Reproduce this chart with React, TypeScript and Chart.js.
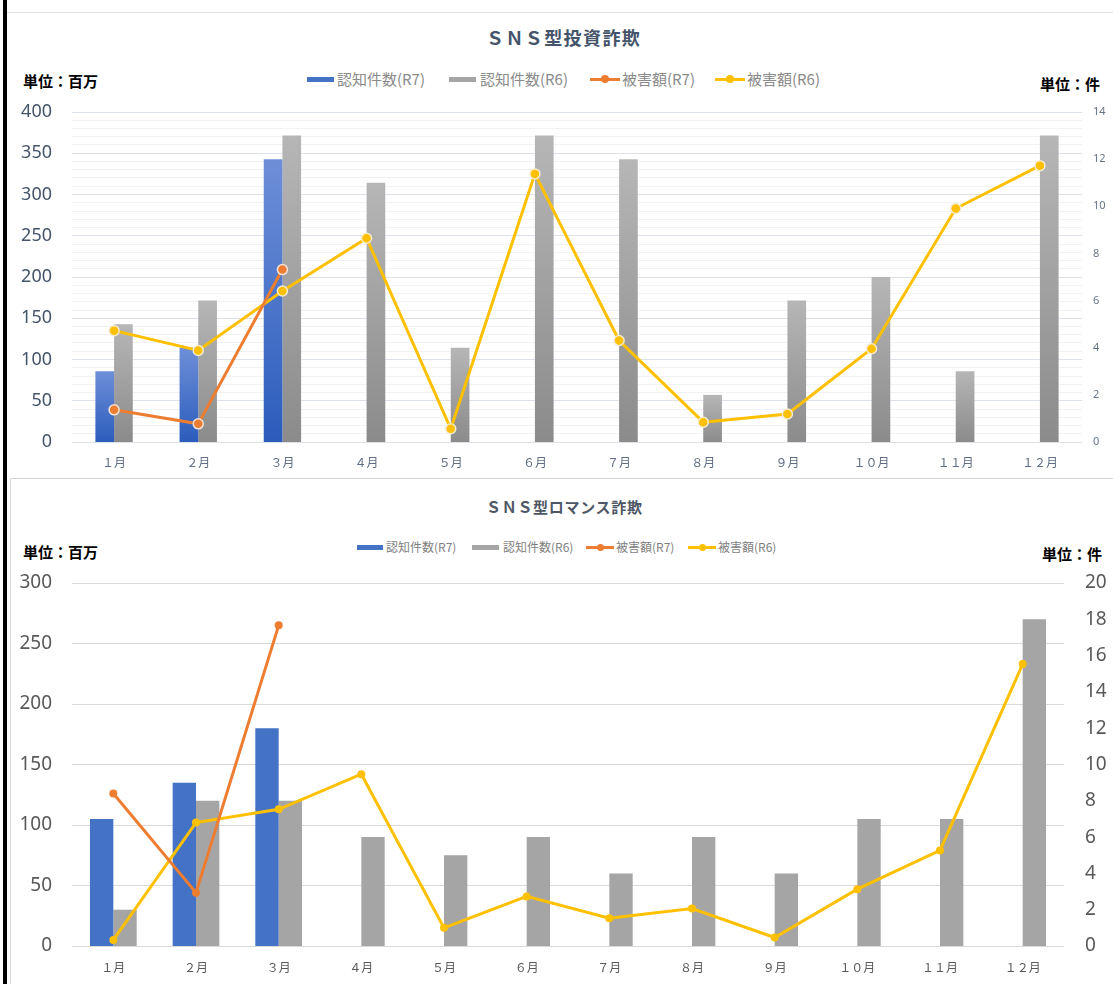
import React, { useEffect, useRef } from 'react';
import { Chart, registerables } from 'chart.js';

Chart.register(...registerables);

// ---------- data ----------
const months = ['１月', '２月', '３月', '４月', '５月', '６月', '７月', '８月', '９月', '１０月', '１１月', '１２月'];
const legendNames = ['認知件数(R7)', '認知件数(R6)', '被害額(R7)', '被害額(R6)'];
const unitLeft = '単位：百万';
const unitRight = '単位：件';

// SNS型投資詐欺
const invTitle = 'ＳＮＳ型投資詐欺';
const invCountR7 = [3, 4, 12, null, null, null, null, null, null, null, null, null];
const invCountR6 = [5, 6, 13, 11, 4, 13, 12, 2, 6, 7, 3, 13];
const invDamageR7 = [39, 22, 209, null, null, null, null, null, null, null, null, null];
const invDamageR6 = [135, 111, 183, 247, 16, 325, 123, 24, 34, 113, 283, 335];
const invLeftMax = 400;
const invLeftLabelStep = 50;
const invLeftMinorStep = 10;
const invRightTicks = [0, 2, 4, 6, 8, 10, 12, 14];

// SNS型ロマンス詐欺
const romTitle = 'ＳＮＳ型ロマンス詐欺';
const romCountR7 = [7, 9, 12, null, null, null, null, null, null, null, null, null];
const romCountR6 = [2, 8, 8, 6, 5, 6, 4, 6, 4, 7, 7, 18];
const romDamageR7 = [126, 44, 265, null, null, null, null, null, null, null, null, null];
const romDamageR6 = [5, 102, 113, 142, 15, 41, 23, 31, 7, 47, 79, 233];
const romLeftTicks = [0, 50, 100, 150, 200, 250, 300];
const romRightTicks = [0, 2, 4, 6, 8, 10, 12, 14, 16, 18, 20];

// ---------- helpers ----------
const FONT = "'Noto Sans', 'Noto Sans CJK JP', sans-serif";
const JP = "'Noto Sans CJK JP', 'Noto Sans', sans-serif";

const barGradient = (light: string, dark: string, axis: string) => (ctx: any) => {
  const chart = ctx.chart;
  const s = chart.scales && chart.scales[axis];
  if (!chart.chartArea || !s || ctx.raw == null) return dark;
  const top = s.getPixelForValue(ctx.raw);
  const bot = s.getPixelForValue(0);
  if (!isFinite(top) || !isFinite(bot) || top === bot) return dark;
  const g = chart.ctx.createLinearGradient(0, top, 0, bot);
  g.addColorStop(0, light);
  g.addColorStop(1, dark);
  return g;
};

function rangeTicks(max: number, step: number) {
  const t: { value: number }[] = [];
  for (let v = 0; v <= max + 1e-9; v += step) t.push({ value: v });
  return t;
}

const fixWidth = (w: number) => (s: any) => {
  s.width = w;
  s.paddingTop = 0;
  s.paddingBottom = 0;
};

function makeInvestConfig(): any {
  return {
    type: 'bar',
    data: {
      labels: months,
      datasets: [
        {
          type: 'bar', label: legendNames[0], data: invCountR7, yAxisID: 'y1', order: 2,
          backgroundColor: barGradient('#6e8fd8', '#2b5cbc', 'y1'),
          categoryPercentage: 0.444, barPercentage: 1,
        },
        {
          type: 'bar', label: legendNames[1], data: invCountR6, yAxisID: 'y1', order: 2,
          backgroundColor: barGradient('#b6b6b6', '#8b8b8b', 'y1'),
          categoryPercentage: 0.444, barPercentage: 1,
        },
        {
          type: 'line', label: legendNames[2], data: invDamageR7, yAxisID: 'y', order: 0,
          borderColor: '#ed7d31', backgroundColor: '#ed7d31', borderWidth: 3,
          pointRadius: 5, pointBackgroundColor: '#ed7d31', pointBorderColor: '#f3e3d8', pointBorderWidth: 1.5,
          tension: 0, spanGaps: false,
        },
        {
          type: 'line', label: legendNames[3], data: invDamageR6, yAxisID: 'y', order: 1,
          borderColor: '#ffc000', backgroundColor: '#ffc000', borderWidth: 3,
          pointRadius: 5, pointBackgroundColor: '#ffc000', pointBorderColor: '#f4ecd2', pointBorderWidth: 1.5,
          tension: 0, spanGaps: false,
        },
      ],
    },
    options: {
      responsive: false,
      animation: false,
      devicePixelRatio: 1,
      layout: { padding: { top: 12, left: 0, right: 0, bottom: 0 } },
      plugins: { legend: { display: false }, title: { display: false }, tooltip: { enabled: false } },
      scales: {
        x: {
          grid: { display: false, drawTicks: false },
          border: { display: false },
          ticks: { color: '#5f6e82', font: { size: 12, family: JP }, padding: 13, autoSkip: false, maxRotation: 0 },
          afterFit: (s: any) => { s.height = 30; },
        },
        y: {
          position: 'left', min: 0, max: invLeftMax,
          afterBuildTicks: (s: any) => { s.ticks = rangeTicks(invLeftMax, invLeftMinorStep); },
          ticks: {
            autoSkip: false, padding: 20, color: '#44546a', font: { size: 18, family: FONT },
            callback: (v: any) => (Number(v) % invLeftLabelStep === 0 ? String(v) : ''),
          },
          grid: {
            drawTicks: false, lineWidth: 1,
            color: (c: any) => (c.tick && c.tick.value % invLeftLabelStep === 0 ? '#dde2ea' : '#f0f2f5'),
          },
          border: { display: false },
          afterFit: fixWidth(72),
        },
        y1: {
          position: 'right', min: 0, max: 14,
          afterBuildTicks: (s: any) => { s.ticks = invRightTicks.map((v) => ({ value: v })); },
          grid: { display: false, drawTicks: false },
          border: { display: false },
          ticks: { autoSkip: false, padding: 11, color: '#66758a', font: { size: 11, family: FONT } },
          afterFit: fixWidth(31),
        },
      },
    },
  };
}

function makeRomanceConfig(): any {
  return {
    type: 'bar',
    data: {
      labels: months,
      datasets: [
        {
          type: 'bar', label: legendNames[0], data: romCountR7, yAxisID: 'y1', order: 2,
          backgroundColor: '#4472c4', borderWidth: 0,
          categoryPercentage: 0.565, barPercentage: 1,
        },
        {
          type: 'bar', label: legendNames[1], data: romCountR6, yAxisID: 'y1', order: 2,
          backgroundColor: '#a5a5a5', borderWidth: 0,
          categoryPercentage: 0.565, barPercentage: 1,
        },
        {
          type: 'line', label: legendNames[2], data: romDamageR7, yAxisID: 'y', order: 0,
          borderColor: '#ed7d31', backgroundColor: '#ed7d31', borderWidth: 3,
          pointRadius: 4, pointBackgroundColor: '#ed7d31', pointBorderWidth: 0,
          tension: 0, spanGaps: false,
        },
        {
          type: 'line', label: legendNames[3], data: romDamageR6, yAxisID: 'y', order: 1,
          borderColor: '#ffc000', backgroundColor: '#ffc000', borderWidth: 3,
          pointRadius: 4, pointBackgroundColor: '#ffc000', pointBorderWidth: 0,
          tension: 0, spanGaps: false,
        },
      ],
    },
    options: {
      responsive: false,
      animation: false,
      devicePixelRatio: 1,
      layout: { padding: { top: 13, left: 0, right: 0, bottom: 0 } },
      plugins: { legend: { display: false }, title: { display: false }, tooltip: { enabled: false } },
      scales: {
        x: {
          grid: { display: false, drawTicks: false },
          border: { display: false },
          ticks: { color: '#595959', font: { size: 12, family: JP }, padding: 14, autoSkip: false, maxRotation: 0 },
          afterFit: (s: any) => { s.height = 30; },
        },
        y: {
          position: 'left', min: 0, max: 300,
          afterBuildTicks: (s: any) => { s.ticks = romLeftTicks.map((v) => ({ value: v })); },
          ticks: { autoSkip: false, padding: 20, color: '#595959', font: { size: 19, family: FONT } },
          grid: { drawTicks: false, lineWidth: 1, color: '#d9d9d9' },
          border: { display: false },
          afterFit: fixWidth(72),
        },
        y1: {
          position: 'right', min: 0, max: 20,
          afterBuildTicks: (s: any) => { s.ticks = romRightTicks.map((v) => ({ value: v })); },
          grid: { display: false, drawTicks: false },
          border: { display: false },
          ticks: { autoSkip: false, padding: 21, color: '#595959', font: { size: 19, family: FONT } },
          afterFit: fixWidth(49),
        },
      },
    },
  };
}

function ChartCanvas({ make, top, width, height }: { make: () => any; top: number; width: number; height: number }) {
  const ref = useRef<HTMLCanvasElement>(null);
  useEffect(() => {
    const chart = new Chart(ref.current as HTMLCanvasElement, make());
    return () => chart.destroy();
  }, []);
  return (
    <canvas
      ref={ref}
      width={width}
      height={height}
      style={{ position: 'absolute', left: 0, top, width, height, display: 'block' }}
    />
  );
}

function Txt({ x, y, size, color, bold, text, spacing, family }: any) {
  return (
    <div
      style={{
        position: 'absolute', left: x, top: y, transform: 'translateY(-50%)',
        fontSize: size, lineHeight: 1.2, color, fontWeight: bold ? 700 : 400,
        fontFamily: family || JP, whiteSpace: 'nowrap', letterSpacing: spacing || 0,
      }}
    >
      {text}
    </div>
  );
}

function Swatch({ x, y, w, kind, color, dot }: any) {
  if (kind === 'bar') {
    return <div style={{ position: 'absolute', left: x, top: y - 2.5, width: w, height: 5, background: color }} />;
  }
  return (
    <>
      <div style={{ position: 'absolute', left: x, top: y - 1.5, width: w, height: 3, background: color }} />
      <div
        style={{
          position: 'absolute', left: x + w / 2 - dot / 2, top: y - dot / 2, width: dot, height: dot,
          borderRadius: '50%', background: color,
        }}
      />
    </>
  );
}

export default function App() {
  const lgA = '#8a8a8a';
  const lgB = '#7f7f7f';
  return (
    <div style={{ position: 'fixed', left: 0, top: 0, width: 1113, height: 984, background: '#ffffff', overflow: 'hidden' }}>
      {/* frame */}
      <div style={{ position: 'absolute', left: 3, top: 0, width: 4, height: 984, background: '#000' }} />
      <div style={{ position: 'absolute', left: 7, top: 12, width: 1106, height: 1, background: '#dde1e6' }} />
      <div style={{ position: 'absolute', left: 10, top: 478, width: 1103, height: 1, background: '#d4d4d4' }} />
      <div style={{ position: 'absolute', left: 10, top: 478, width: 1, height: 506, background: '#d9d9d9' }} />

      {/* chart 1 */}
      <Txt x={486} y={38} size={18} color="#44546a" bold text={invTitle} spacing={1.4} />
      <Txt x={23} y={81} size={15} color="#000" bold text={unitLeft} />
      <Txt x={1040} y={84} size={15} color="#000" bold text={unitRight} />
      <Swatch x={307} y={79} w={27} kind="bar" color="#4472c4" />
      <Txt x={337} y={79} size={15} color={lgA} text={legendNames[0]} />
      <Swatch x={449} y={79} w={27} kind="bar" color="#a5a5a5" />
      <Txt x={480} y={79} size={15} color={lgA} text={legendNames[1]} />
      <Swatch x={590} y={79} w={30} kind="line" color="#ed7d31" dot={8} />
      <Txt x={622} y={79} size={15} color={lgA} text={legendNames[2]} />
      <Swatch x={715} y={79} w={30} kind="line" color="#ffc000" dot={8} />
      <Txt x={747} y={79} size={15} color={lgA} text={legendNames[3]} />
      <ChartCanvas make={makeInvestConfig} top={100} width={1113} height={372} />

      {/* chart 2 */}
      <Txt x={486} y={507} size={15} color="#4e5766" bold text={romTitle} spacing={0.7} />
      <Txt x={23} y={552} size={15} color="#000" bold text={unitLeft} />
      <Txt x={1042} y={554} size={15} color="#000" bold text={unitRight} />
      <Swatch x={357} y={547} w={26} kind="bar" color="#4472c4" />
      <Txt x={386} y={547} size={12} color={lgB} text={legendNames[0]} />
      <Swatch x={472} y={547} w={27} kind="bar" color="#a5a5a5" />
      <Txt x={503} y={547} size={12} color={lgB} text={legendNames[1]} />
      <Swatch x={586} y={547} w={28} kind="line" color="#ed7d31" dot={7} />
      <Txt x={616} y={547} size={12} color={lgB} text={legendNames[2]} />
      <Swatch x={688} y={547} w={28} kind="line" color="#ffc000" dot={7} />
      <Txt x={718} y={547} size={12} color={lgB} text={legendNames[3]} />
      <ChartCanvas make={makeRomanceConfig} top={570} width={1113} height={406} />
    </div>
  );
}
